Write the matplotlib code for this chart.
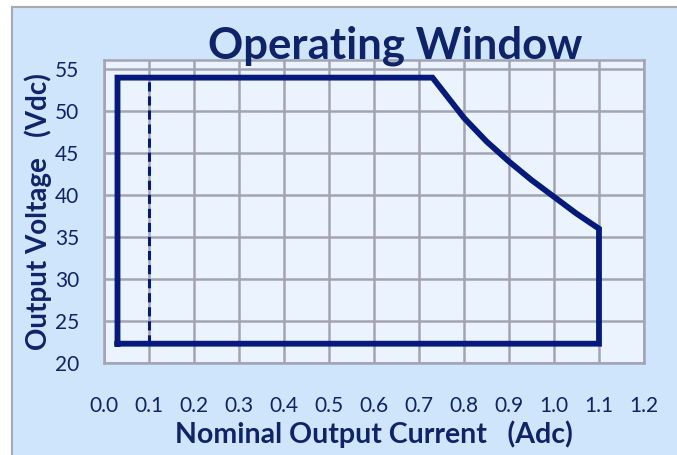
import matplotlib
matplotlib.use("Agg")
import matplotlib.pyplot as plt
from matplotlib.patches import Rectangle

plt.rcParams['font.family'] = ['Lato', 'DejaVu Sans']

# operating window outline (current in A, voltage in V)
window_i = [0.03, 0.03, 0.73, 0.80, 0.85, 0.90, 0.95, 1.00, 1.05, 1.10, 1.10, 0.03]
window_v = [22.3, 54.0, 54.0, 49.2, 46.4, 44.0, 41.8, 39.8, 37.8, 36.0, 22.3, 22.3]

# minimum current marker
min_i = [0.1, 0.1]
min_v = [22.3, 54.0]

x_ticks = [0.0, 0.1, 0.2, 0.3, 0.4, 0.5, 0.6, 0.7, 0.8, 0.9, 1.0, 1.1, 1.2]
y_ticks = [20, 25, 30, 35, 40, 45, 50, 55]

navy = '#061a7c'
text_navy = '#0f2368'
grid_gray = '#a3a3b3'

fig = plt.figure(figsize=(6.77, 4.55), dpi=100, facecolor='white')
fig.patches.append(Rectangle((12 / 677, -0.1), 1.2, 1.1 - 7 / 455,
                             transform=fig.transFigure, facecolor='#cfe5fb',
                             edgecolor='#a8a8b0', linewidth=1.5, zorder=-10))

ax = fig.add_axes([104 / 677, 1 - 363 / 455, 540 / 677, 303 / 455])
ax.set_facecolor('#ebf4fe')

ax.plot(window_i, window_v, color=navy, linewidth=4.2, solid_joinstyle='miter', zorder=3)
ax.plot(min_i, min_v, color=navy, linewidth=2.2, linestyle=(0, (3, 1.6)), zorder=3)

ax.set_xlim(0, 1.2)
ax.set_ylim(20, 56.1)
ax.set_xticks(x_ticks)
ax.set_yticks(y_ticks)
ax.set_xticklabels([f'{t:.1f}' for t in x_ticks])
ax.grid(True, color=grid_gray, linewidth=1.8)
ax.set_axisbelow(True)
for s in ax.spines.values():
    s.set_color(grid_gray)
    s.set_linewidth(1.8)
ax.tick_params(axis='x', length=0, pad=24, labelsize=15, labelcolor=text_navy)
ax.tick_params(axis='y', length=0, pad=18, labelsize=15, labelcolor=text_navy)

ax.set_xlabel('Nominal Output Current   (Adc)', fontsize=20.5, fontweight='bold',
              color=text_navy, labelpad=3)
ax.set_ylabel('Output Voltage   (Vdc)', fontsize=20, fontweight='bold',
              color=text_navy, labelpad=2)

fig.text(395 / 677, 1 - 46 / 455, 'Operating Window', fontsize=31.5, fontweight='bold',
         color=text_navy, ha='center', va='center')

fig.savefig('out.png', dpi=100)
